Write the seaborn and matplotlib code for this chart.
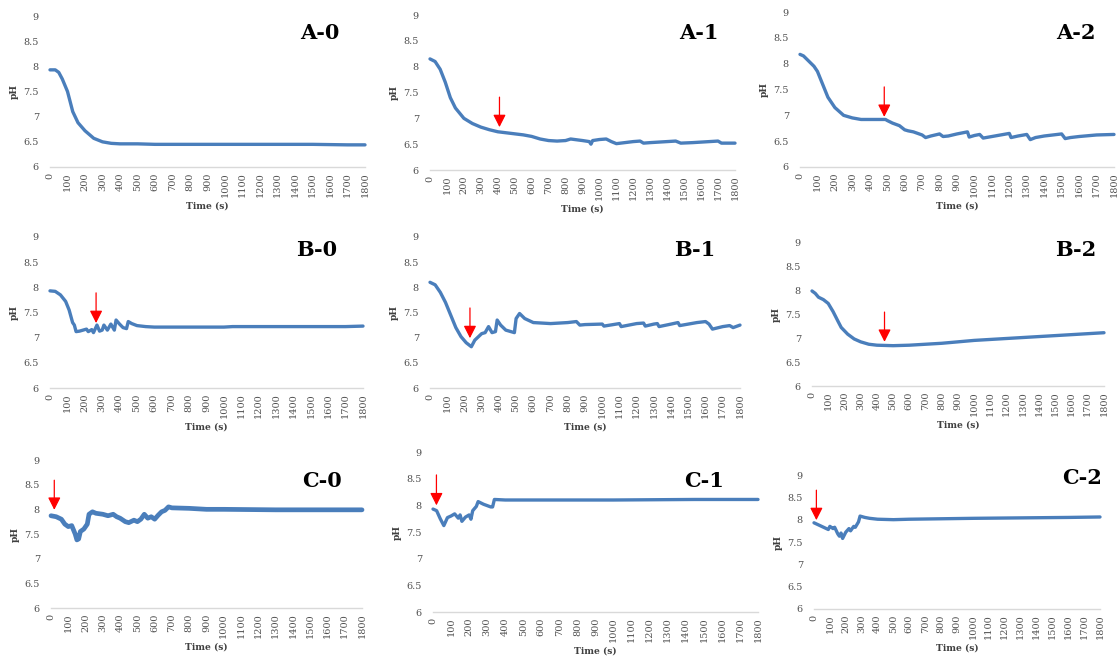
import matplotlib
matplotlib.use("Agg")
import matplotlib.pyplot as plt
import seaborn as sns

# pH readings
t_a0 = [0, 30, 50, 70, 100, 130, 160, 200, 250, 300, 350, 400, 500, 600, 900, 1200, 1500, 1700, 1800]
ph_a0 = [7.93, 7.93, 7.88, 7.75, 7.5, 7.1, 6.88, 6.72, 6.57, 6.5, 6.47, 6.46, 6.46, 6.45, 6.45, 6.45, 6.45, 6.44, 6.44]

t_a1 = [0, 30, 60, 90, 120, 150, 200, 250, 300, 350, 400, 450, 500, 550, 600, 650, 700, 750, 800, 830, 900,
        940, 950, 960, 1000, 1040, 1070, 1100, 1150, 1200, 1240, 1260, 1300, 1400, 1450, 1480, 1550, 1650,
        1700, 1720, 1800]
ph_a1 = [8.15, 8.1, 7.95, 7.7, 7.4, 7.2, 7.0, 6.9, 6.83, 6.78, 6.74, 6.72, 6.7, 6.68, 6.65, 6.6, 6.57, 6.56,
         6.57, 6.6, 6.57, 6.55, 6.5, 6.57, 6.59, 6.6, 6.55, 6.51, 6.53, 6.55, 6.56, 6.52, 6.53, 6.55, 6.56,
         6.52, 6.53, 6.55, 6.56, 6.52, 6.52]

t_a2 = [0, 20, 50, 80, 100, 130, 160, 200, 250, 300, 350, 400, 490, 500, 530, 570, 600, 620, 650, 700, 720,
        750, 800, 820, 850, 900, 960, 970, 1000, 1030, 1050, 1100, 1150, 1200, 1210, 1250, 1300, 1320, 1350,
        1400, 1500, 1520, 1550, 1600, 1700, 1800]
ph_a2 = [8.18, 8.15, 8.05, 7.95, 7.85, 7.6, 7.35, 7.15, 7.0, 6.95, 6.92, 6.92, 6.92, 6.9, 6.85, 6.8, 6.72,
         6.7, 6.68, 6.62, 6.57, 6.6, 6.64, 6.59, 6.6, 6.64, 6.68, 6.58, 6.61, 6.63, 6.56, 6.59, 6.62, 6.65,
         6.57, 6.6, 6.63, 6.53, 6.57, 6.6, 6.64, 6.55, 6.57, 6.59, 6.62, 6.63]

t_b0 = [0, 30, 60, 90, 110, 130, 140, 150, 170, 190, 210, 220, 240, 250, 270, 285, 300, 310, 330, 350, 370,
        380, 400, 420, 440, 450, 470, 500, 550, 600, 1000, 1050, 1700, 1800]
ph_b0 = [7.93, 7.92, 7.85, 7.72, 7.55, 7.3, 7.25, 7.12, 7.13, 7.15, 7.17, 7.12, 7.16, 7.1, 7.25, 7.13, 7.15,
         7.25, 7.15, 7.27, 7.15, 7.35, 7.27, 7.2, 7.18, 7.32, 7.28, 7.24, 7.22, 7.21, 7.21, 7.22, 7.22, 7.23]

t_b1 = [0, 30, 60, 90, 120, 150, 180, 210, 240, 260, 300, 320, 340, 360, 380, 390, 410, 440, 490, 500, 520,
        550, 600, 700, 800, 850, 870, 900, 1000, 1010, 1100, 1110, 1200, 1240, 1250, 1300, 1320, 1330, 1400,
        1440, 1450, 1550, 1600, 1620, 1640, 1700, 1740, 1760, 1800]
ph_b1 = [8.1, 8.05, 7.9, 7.7, 7.45, 7.2, 7.02, 6.9, 6.82, 6.95, 7.08, 7.1, 7.22, 7.1, 7.12, 7.35, 7.25, 7.15,
         7.1, 7.38, 7.48, 7.38, 7.3, 7.28, 7.3, 7.32, 7.25, 7.26, 7.27, 7.23, 7.28, 7.22, 7.28, 7.29, 7.23,
         7.27, 7.28, 7.22, 7.27, 7.3, 7.24, 7.3, 7.32, 7.27, 7.17, 7.22, 7.24, 7.2, 7.25]

t_b2 = [0, 20, 40, 70, 100, 130, 160, 180, 220, 260, 300, 350, 400, 500, 600, 700, 800, 900, 1000, 1100,
        1200, 1300, 1400, 1500, 1600, 1700, 1800]
ph_b2 = [7.98, 7.93, 7.85, 7.8, 7.72, 7.55, 7.35, 7.22, 7.08, 6.98, 6.92, 6.87, 6.85, 6.84, 6.85, 6.87,
         6.89, 6.92, 6.95, 6.97, 6.99, 7.01, 7.03, 7.05, 7.07, 7.09, 7.11]

t_c0 = [0, 30, 60, 80, 100, 120, 140, 150, 160, 170, 190, 210, 220, 240, 260, 300, 330, 360, 380, 400, 430,
        450, 480, 500, 520, 540, 560, 580, 600, 620, 640, 660, 680, 700, 800, 900, 1000, 1300, 1600, 1800]
ph_c0 = [7.87, 7.85, 7.8, 7.7, 7.65, 7.67, 7.5, 7.38, 7.4, 7.55, 7.6, 7.7, 7.9, 7.95, 7.92, 7.9, 7.87, 7.9,
         7.85, 7.82, 7.75, 7.73, 7.78, 7.75, 7.8, 7.9, 7.82, 7.85, 7.8, 7.88, 7.95, 7.98, 8.05, 8.03, 8.02,
         8.0, 8.0, 7.99, 7.99, 7.99]

t_c1 = [0, 20, 40, 60, 80, 100, 120, 140, 150, 160, 180, 200, 210, 220, 240, 250, 280, 320, 330, 340, 400,
        1000, 1450, 1800]
ph_c1 = [7.93, 7.9, 7.75, 7.62, 7.77, 7.8, 7.84, 7.76, 7.82, 7.7, 7.78, 7.82, 7.74, 7.9, 7.98, 8.07, 8.02,
         7.97, 7.97, 8.11, 8.1, 8.1, 8.11, 8.11]

t_c2 = [0, 30, 60, 90, 100, 120, 130, 150, 160, 170, 180, 200, 220, 230, 250, 260, 280, 290, 320, 350, 400,
        500, 600, 800, 1000, 1300, 1600, 1800]
ph_c2 = [7.93, 7.88, 7.83, 7.78, 7.85, 7.8, 7.83, 7.68, 7.63, 7.7, 7.58, 7.72, 7.8, 7.75, 7.85, 7.83, 7.95,
         8.08, 8.05, 8.03, 8.01, 8.0, 8.01, 8.02, 8.03, 8.04, 8.05, 8.06]

labels = ["A-0", "A-1", "A-2", "B-0", "B-1", "B-2", "C-0", "C-1", "C-2"]
times = [t_a0, t_a1, t_a2, t_b0, t_b1, t_b2, t_c0, t_c1, t_c2]
phs = [ph_a0, ph_a1, ph_a2, ph_b0, ph_b1, ph_b2, ph_c0, ph_c1, ph_c2]

# red arrow markers: (time, shaft top pH, tip pH); None = no arrow
arrows = [None, (410, 7.41, 6.83), (483, 7.55, 6.97),
          (265, 7.89, 7.29), (232, 7.59, 6.99), (447, 7.54, 6.92),
          (19, 8.59, 7.99), (19, 8.57, 8.0), (15, 8.66, 7.99)]

# panel boxes in pixels: x of t=0, x of t=1800, y of pH 9, y of pH 6
boxes = [(50, 365, 16, 167), (430, 735, 15, 170), (800, 1114, 12, 167),
         (50, 363, 237, 388), (430, 740, 237, 388), (812, 1104, 242, 386),
         (51, 362, 460, 608), (433, 758, 452, 612), (814, 1100, 475, 609)]
title_pos = [(320, 33), (699, 33), (1076, 33),
             (317, 250), (695, 250), (1076, 250),
             (322, 481), (704, 481), (1082, 478)]

W, H = 1118, 661
sns.set_style("white")
plt.rcParams["font.family"] = ["DejaVu Serif"]

fig = plt.figure(figsize=(W / 100, H / 100), dpi=100)
line_color = "#4a7ebb"
tick_color = "#505050"

for i in range(9):
    x0, x1, y9, y6 = boxes[i]
    ax = fig.add_axes([x0 / W, 1 - y6 / H, (x1 - x0) / W, (y6 - y9) / H])
    lw = 3.4 if labels[i] == "C-0" else 2.4
    sns.lineplot(x=times[i], y=phs[i], ax=ax, color=line_color, linewidth=lw)
    ax.set_xlim(0, 1800)
    ax.set_ylim(6, 9)
    ax.set_xticks(range(0, 1801, 100))
    ax.set_xticklabels([str(v) for v in range(0, 1801, 100)], rotation=90)
    ax.set_yticks([6, 6.5, 7, 7.5, 8, 8.5, 9])
    ax.set_yticklabels(["6", "6.5", "7", "7.5", "8", "8.5", "9"])
    ax.tick_params(axis="both", length=0, labelsize=7, colors=tick_color)
    ax.tick_params(axis="y", pad=8)
    ax.tick_params(axis="x", pad=4)
    for s in ["top", "right", "left"]:
        ax.spines[s].set_visible(False)
    ax.spines["bottom"].set_color("#d9d9d9")
    ax.spines["bottom"].set_linewidth(1.0)
    ax.set_xlabel("Time (s)", fontsize=6.6, fontweight="bold", color="#404040", labelpad=3)
    ax.set_ylabel("pH", fontsize=6.6, fontweight="bold", color="#404040", labelpad=3)
    ax.patch.set_alpha(0)
    for ln in ax.lines:
        ln.set_clip_on(False)

    if arrows[i] is not None:
        ta, ytop, ytip = arrows[i]
        ax.annotate("", xy=(ta, ytip), xytext=(ta, ytop),
                    arrowprops=dict(arrowstyle="-|>,head_length=0.75,head_width=0.38",
                                    color="#ff0000", lw=0.9, mutation_scale=10,
                                    shrinkA=0, shrinkB=0))

    tx, ty = title_pos[i]
    fig.text(tx / W, 1 - ty / H, labels[i], ha="center", va="center",
             fontsize=15, fontweight="bold", color="black")

fig.savefig("out.png", dpi=100)
